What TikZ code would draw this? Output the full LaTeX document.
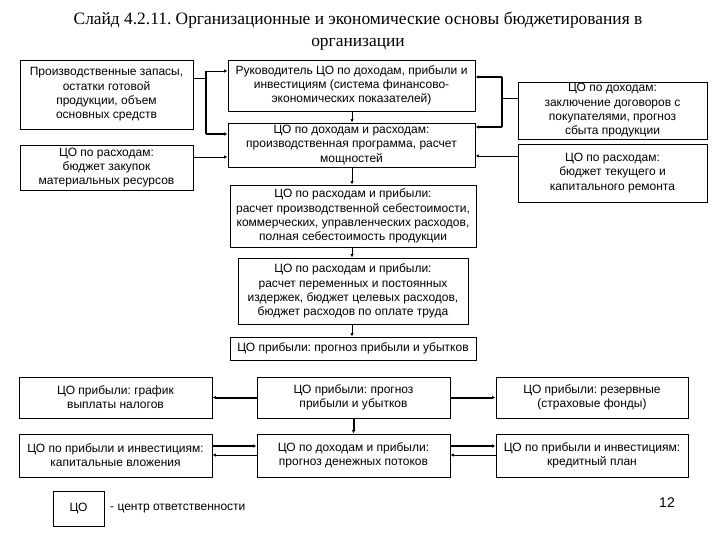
\documentclass[tikz,border=0pt]{standalone}
\usepackage{fontspec}
\setmainfont{Liberation Sans}
\newfontfamily\titlefont{Liberation Serif}
\usetikzlibrary{arrows.meta}
\frenchspacing
\begin{document}
\begin{tikzpicture}[x=1pt,y=-1pt,
  box/.style={draw,line width=0.9pt,rectangle,inner sep=0pt,align=center,
    font=\fontsize{12}{14.3}\selectfont},
  ln/.style={line width=0.8pt},
  thk/.style={line width=2pt},
  arr/.style={-{Latex[length=3.5pt,width=3.5pt]}},
]
\fill[white] (0,0) rectangle (720,540);
\useasboundingbox (0,0) rectangle (720,540);
% title
\node[font=\titlefont\fontsize{17.4}{22}\selectfont,align=center] (title) at (358,31)
 {Слайд 4.2.11. Организационные и экономические основы бюджетирования в\\организации};
% left boxes
\node[box,minimum width=173pt,minimum height=69pt] (b1) at (106.5,94.5)
 {Производственные запасы,\\остатки готовой\\продукции, объем\\основных средств};
\node[box,minimum width=173pt,minimum height=45pt] (b2) at (106.5,167.5)
 {ЦО по расходам:\\бюджет закупок\\материальных ресурсов};
% central chain
\node[box,minimum width=247pt,minimum height=51pt] (b3) at (351.5,85.5)
 {Руководитель ЦО по доходам, прибыли и\\инвестициям (система финансово-\\экономических показателей)};
\node[box,minimum width=247pt,minimum height=44pt] (b4) at (351.5,145)
 {ЦО по доходам и расходам:\\производственная программа, расчет\\мощностей};
\node[box,minimum width=246pt,minimum height=62pt] (b5) at (353,216)
 {ЦО по расходам и прибыли:\\расчет производственной себестоимости,\\коммерческих, управленческих расходов,\\полная себестоимость продукции};
\node[box,minimum width=230pt,minimum height=66pt] (b6) at (353,291)
 {ЦО по расходам и прибыли:\\расчет переменных и постоянных\\издержек, бюджет целевых расходов,\\бюджет расходов по оплате труда};
\node[box,minimum width=246pt,minimum height=23pt] (b7) at (353,348.5)
 {ЦО прибыли: прогноз прибыли и убытков};
% right boxes
\node[box,minimum width=189pt,minimum height=57pt] (b8) at (612.5,110.5)
 {ЦО по доходам:\\заключение договоров с\\покупателями, прогноз\\сбыта продукции};
\node[box,minimum width=189pt,minimum height=58pt] (b9) at (612.5,173)
 {ЦО по расходам:\\бюджет текущего и\\капитального ремонта};
% bottom rows
\node[box,minimum width=193pt,minimum height=41pt] (r1) at (115.5,397.5)
 {ЦО прибыли: график\\выплаты налогов};
\node[box,minimum width=193pt,minimum height=41pt] (r2) at (353.5,397.5)
 {ЦО прибыли: прогноз\\прибыли и убытков};
\node[box,minimum width=192pt,minimum height=41pt] (r3) at (592,397.5)
 {ЦО прибыли: резервные\\(страховые фонды)};
\node[box,minimum width=193pt,minimum height=43pt] (r4) at (115.5,455.5)
 {ЦО по прибыли и инвестициям:\\капитальные вложения};
\node[box,minimum width=193pt,minimum height=43pt] (r5) at (353.5,455.5)
 {ЦО по доходам и прибыли:\\прогноз денежных потоков};
\node[box,minimum width=192pt,minimum height=43pt] (r6) at (592,455.5)
 {ЦО по прибыли и инвестициям:\\кредитный план};
% legend
\node[box,minimum width=51pt,minimum height=35pt] (lg) at (78.5,508.5) {ЦО};
\node[anchor=west,inner sep=0pt,font=\fontsize{12}{14}\selectfont] (lgt) at (110,509) {- центр ответственности};
\node[font=\fontsize{14}{16}\selectfont] (pg) at (667,503) {12};
% left bracket connectors
\coordinate (j1) at (206,78);
\coordinate (ja) at (206,71);
\coordinate (jb) at (206,134);
\coordinate (k2) at (200,157);
\draw[ln] (j1 -| b1.east) -- (j1);
\draw[line width=1.3pt] (ja) -- (jb);
\draw[ln,arr] (ja) -- (ja -| b3.west);
\draw[thk,arr] (jb) -- (jb -| b4.west);
\draw[ln,arr] (k2 -| b2.east) -- (k2 -| b4.west);
% central chain arrows
\coordinate (cx) at (352,0);
\draw[ln,arr] (cx |- b3.south) -- (cx |- b4.north);
\draw[ln,arr] (cx |- b4.south) -- (cx |- b5.north);
\draw[ln,arr] (cx |- b5.south) -- (cx |- b6.north);
\draw[ln,arr] (cx |- b6.south) -- (cx |- b7.north);
% right bracket connectors
\coordinate (rA) at (502,77);
\coordinate (rB) at (502,127);
\coordinate (rM) at (502,98);
\coordinate (rN) at (510,156);
\draw[thk] (rA) -- (rB);
\draw[thk,arr] (rA) -- (rA -| b3.east);
\draw[thk,arr] (rB) -- (rB -| b4.east);
\draw[ln] (rM) -- (rM -| b8.west);
\draw[ln,arr] (rN -| b9.west) -- (rN -| b4.east);
% bottom arrows
\draw[thk,arr] (r2.west) -- (r1.east);
\draw[thk,arr] (r2.east) -- (r3.west);
\draw[thk,arr] (r2.south) -- (r5.north);
\coordinate (u1) at (230,446);
\coordinate (u2) at (230,455);
\draw[thk,arr] (u1 -| r4.east) -- (u1 -| r5.west);
\draw[ln,arr] (u2 -| r5.west) -- (u2 -| r4.east);
\draw[thk,arr] (u1 -| r5.east) -- (u1 -| r6.west);
\draw[ln,arr] (u2 -| r6.west) -- (u2 -| r5.east);
\end{tikzpicture}
\end{document}
